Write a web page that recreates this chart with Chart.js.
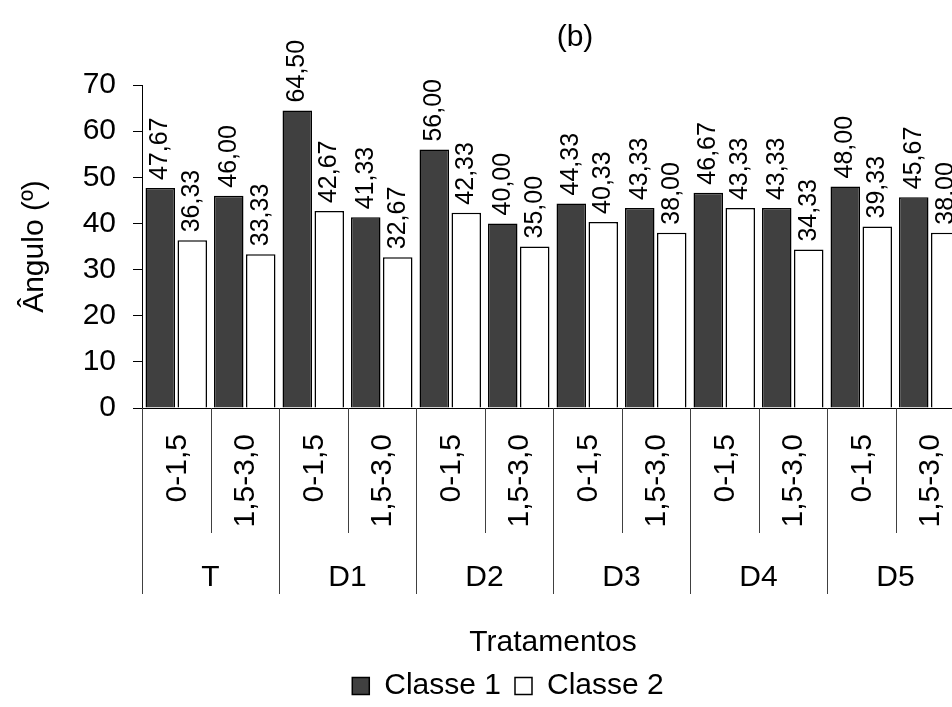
<!DOCTYPE html>
<html>
<head>
<meta charset="utf-8">
<script src="https://cdn.jsdelivr.net/npm/chart.js@4"></script>
<style>
  html, body { margin:0; padding:0; background:#fff; overflow:hidden; }
  #wrap { position:relative; width:1014px; height:707px; }
</style>
</head>
<body>
<div id="wrap"><canvas id="c"></canvas></div>
<script>
const groups   = ['T', 'D1', 'D2', 'D3', 'D4', 'D5'];
const depths   = ['0-1,5', '1,5-3,0'];
const classe1  = [47.67, 46.00, 64.50, 41.33, 56.00, 40.00, 44.33, 43.33, 46.67, 43.33, 48.00, 45.67];
const classe2  = [36.33, 33.33, 42.67, 32.67, 42.33, 35.00, 40.33, 38.00, 43.33, 34.33, 39.33, 38.00];
const yTicks   = [0, 10, 20, 30, 40, 50, 60, 70];

const labels = groups.flatMap(() => depths);
const FONT = "'Liberation Sans', Arial, sans-serif";
const fmt = v => v.toFixed(2).replace('.', ',');

// value labels above bars, rotated
const barLabels = {
  id: 'barLabels',
  afterDatasetsDraw(chart) {
    const ctx = chart.ctx;
    ctx.save();
    ctx.fillStyle = '#000';
    ctx.font = `25px ${FONT}`;
    ctx.textAlign = 'left';
    ctx.textBaseline = 'middle';
    chart.data.datasets.forEach((ds, di) => {
      chart.getDatasetMeta(di).data.forEach((bar, i) => {
        ctx.save();
        ctx.translate(bar.x, bar.y - 8);
        ctx.rotate(-Math.PI / 2);
        ctx.fillText(fmt(ds.data[i]), 0, 0);
        ctx.restore();
      });
    });
    ctx.restore();
  }
};

// two-level category axis: separators, depth labels, group names
const groupAxis = {
  id: 'groupAxis',
  afterLayout(chart) {
    // legend and title are off-centre in the original
    chart.legend.left += 26; chart.legend.right += 26;
    chart.titleBlock.left += 22; chart.titleBlock.right += 22;
  },
  afterDraw(chart) {
    const ctx = chart.ctx, x = chart.scales.x, top = chart.chartArea.bottom;
    const step = x.getPixelForValue(1) - x.getPixelForValue(0);
    ctx.save();
    ctx.strokeStyle = '#404040';
    ctx.lineWidth = 1;
    for (let i = 0; i <= labels.length; i++) {
      const px = Math.round(x.getPixelForValue(i) - step / 2) + 0.5;
      const len = i % depths.length === 0 ? 186 : 125;
      ctx.beginPath(); ctx.moveTo(px, top); ctx.lineTo(px, top + len); ctx.stroke();
    }
    ctx.fillStyle = '#000';
    ctx.font = `30px ${FONT}`;
    ctx.textBaseline = 'middle';
    ctx.textAlign = 'right';
    labels.forEach((l, i) => {
      ctx.save();
      ctx.translate(x.getPixelForValue(i) + 1, top + 26);
      ctx.rotate(-Math.PI / 2);
      ctx.fillText(l, 0, 0);
      ctx.restore();
    });
    ctx.textAlign = 'center';
    groups.forEach((g, gi) => {
      const a = x.getPixelForValue(gi * depths.length);
      const b = x.getPixelForValue(gi * depths.length + depths.length - 1);
      ctx.fillText(g, (a + b) / 2, top + 170);
    });
    ctx.restore();
  }
};

new Chart(document.getElementById('c'), {
  type: 'bar',
  data: {
    labels,
    datasets: [
      { label: 'Classe 1', data: classe1, backgroundColor: '#404040', borderColor: '#000', borderWidth: 1.5 },
      { label: 'Classe 2', data: classe2, backgroundColor: '#fff', borderColor: '#000', borderWidth: 1.5 },
    ]
  },
  options: {
    responsive: true, maintainAspectRatio: false, animation: false,
    layout: { padding: { left: 0, right: 50, top: 0, bottom: -4 } },
    datasets: { bar: { categoryPercentage: 0.934, barPercentage: 0.922 } },
    plugins: {
      legend: {
        position: 'bottom', fullSize: true,
        labels: { color: '#000', font: { family: FONT, size: 30 }, boxWidth: 17, boxHeight: 17, padding: 14 }
      },
      title: {
        display: true, text: '(b)', color: '#000', fullSize: false,
        font: { family: FONT, size: 30, weight: 'normal' },
        padding: { top: 20, bottom: 29 }
      },
      tooltip: { enabled: false }
    },
    scales: {
      x: {
        grid: { display: false },
        border: { display: true, color: '#000', width: 1 },
        ticks: { display: false },
        title: { display: true, text: 'Tratamentos', color: '#000', font: { family: FONT, size: 30 }, padding: { top: 0, bottom: -4 } },
        afterFit: s => { s.height = 249; }
      },
      y: {
        min: 0, max: 70,
        afterBuildTicks: s => { s.ticks = yTicks.map(v => ({ value: v })); },
        grid: { drawOnChartArea: false, drawTicks: true, tickLength: 9, color: '#000' },
        border: { display: true, color: '#000', width: 1 },
        ticks: { color: '#000', font: { family: FONT, size: 30 }, padding: 17 },
        title: { display: true, text: 'Ângulo (º)', color: '#000', font: { family: FONT, size: 30 }, padding: { top: 17, bottom: 0 } },
        afterFit: s => { s.width = 142; }
      }
    }
  },
  plugins: [barLabels, groupAxis]
});
</script>
</body>
</html>
